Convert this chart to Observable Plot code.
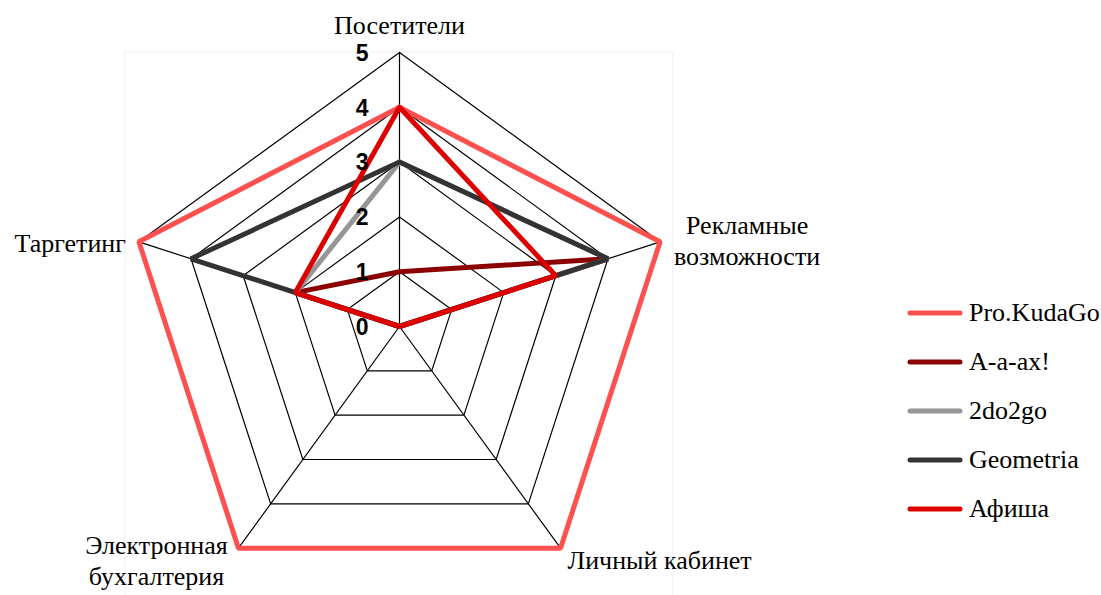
<!DOCTYPE html>
<html><head><meta charset="utf-8">
<script src="https://cdn.jsdelivr.net/npm/d3@7"></script>
<script src="https://cdn.jsdelivr.net/npm/@observablehq/plot@0.6"></script>
<style>
body{margin:0;background:#fff;}
#wrap{position:relative;width:1101px;height:595px;overflow:hidden;}
#legend{position:absolute;left:905px;top:288px;font-family:"Liberation Serif","Times New Roman",serif;font-size:26px;color:#000;}
.row{height:49px;display:flex;align-items:center;}
.row svg{margin-right:4px;}
</style></head><body><div id="wrap"><div id="legend"></div></div>
<script>
// ---- data ----
const axisNames = ["Посетители", "Рекламные\nвозможности", "Личный кабинет", "Электронная\nбухгалтерия", "Таргетинг"];
const seriesNames = ["Pro.KudaGo", "A-a-ax!", "2do2go", "Geometria", "Афиша"];
const proKudaGo = [4, 5, 5, 5, 5];
const aaax      = [1, 4, 0, 0, 2];
const twoDo2go  = [3, 4, 0, 0, 2];
const geometria = [3, 4, 0, 0, 4];
const afisha    = [4, 3, 0, 0, 2];
const tickValues = [0, 1, 2, 3, 4, 5];
const seriesColors = ["#ff5050", "#8b0000", "#969696", "#333333", "#dd0000"];

// ---- build ----
const seriesValues = [proKudaGo, aaax, twoDo2go, geometria, afisha];
const N = axisNames.length;
const maxV = 5;
const ang = i => 2 * Math.PI * i / N;
const pt = (i, v) => ({x: v * Math.sin(ang(i)), y: v * Math.cos(ang(i))});

const W = 1101, H = 595, cx = 399, cy = 326, unit = 274 / maxV;

const gridData = [];
for (let lv = 1; lv <= maxV; lv++) {
  for (let i = 0; i <= N; i++) gridData.push({...pt(i % N, lv), level: lv});
}
const spokes = axisNames.map((a, i) => ({x1: 0, y1: 0, x2: pt(i, maxV).x, y2: pt(i, maxV).y}));

const lineData = [];
seriesNames.forEach((s, k) => {
  for (let i = 0; i <= N; i++) lineData.push({...pt(i % N, seriesValues[k][i % N]), series: s});
});

const labelPos = axisNames.map((a, i) => ({...pt(i, maxV), label: a}));
const serif = '"Liberation Serif", "Times New Roman", serif';

const lbl = (i, opts) => Plot.text([labelPos[i]], {x: "x", y: "y", text: "label", fontFamily: serif, fontSize: 26, fill: "#000", lineHeight: 1.2, ...opts});

const chart = Plot.plot({
  width: W, height: H, margin: 0,
  x: {domain: [-cx / unit, (W - cx) / unit], range: [0, W], axis: null},
  y: {domain: [-(H - cy) / unit, cy / unit], range: [H, 0], axis: null},
  color: {domain: seriesNames, range: seriesColors},
  style: {background: "#fff", overflow: "visible"},
  marks: [
    Plot.rect([{x1: -maxV, x2: maxV, y1: -maxV, y2: maxV}], {x1: "x1", x2: "x2", y1: "y1", y2: "y2", fill: "none", stroke: "#efefef", strokeWidth: 1}),
    Plot.line(gridData, {x: "x", y: "y", z: "level", stroke: "#000", strokeWidth: 1.2}),
    Plot.link(spokes, {x1: "x1", y1: "y1", x2: "x2", y2: "y2", stroke: "#000", strokeWidth: 1.2}),
    Plot.line(lineData, {x: "x", y: "y", z: "series", stroke: "series", strokeWidth: 5, strokeLinejoin: "miter"}),
    Plot.text(tickValues, {x: 0, y: d => d, text: d => String(d), textAnchor: "end", dx: -31, dy: 1, fontFamily: '"Liberation Sans", Arial, sans-serif', fontWeight: "bold", fontSize: 23, fill: "#000"}),
    lbl(0, {textAnchor: "middle", dy: -28}),
    lbl(1, {textAnchor: "middle", dx: 87, dy: -2}),
    lbl(2, {textAnchor: "start", dx: 7, dy: 11}),
    lbl(3, {textAnchor: "middle", dx: -82, dy: 11}),
    lbl(4, {textAnchor: "end", dx: -13, dy: 0})
  ]
});
chart.style.position = "absolute";
chart.style.left = "0";
chart.style.top = "0";
const wrap = document.getElementById("wrap");
wrap.insertBefore(chart, wrap.firstChild);

const legend = document.getElementById("legend");
seriesNames.forEach((s, k) => {
  const row = document.createElement("div");
  row.className = "row";
  row.innerHTML = `<svg width="60" height="10"><line x1="5" y1="5" x2="55" y2="5" stroke="${seriesColors[k]}" stroke-width="5" stroke-linecap="round"/></svg><span>${s}</span>`;
  legend.appendChild(row);
});
</script>
</body></html>
